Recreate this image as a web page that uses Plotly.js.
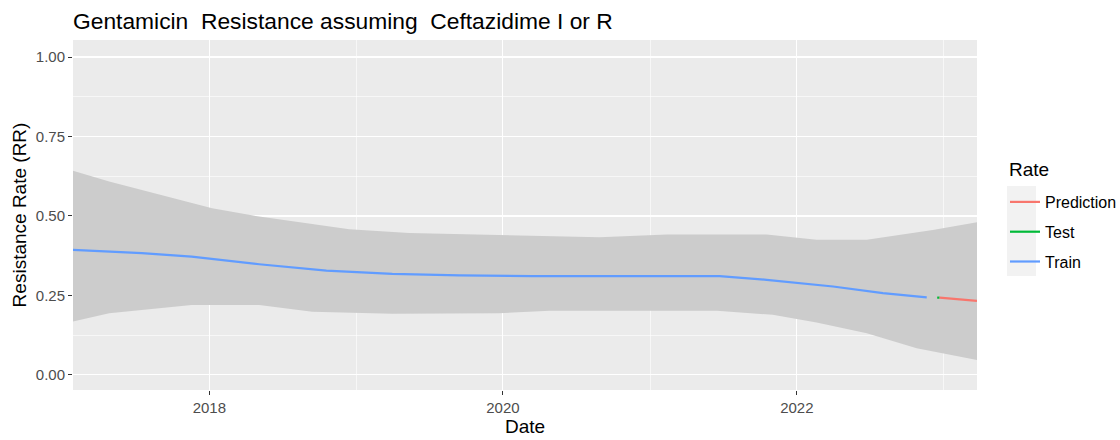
<!DOCTYPE html>
<html>
<head>
<meta charset="utf-8">
<script src="https://cdn.plot.ly/plotly-3.0.1.min.js"></script>
<style>html,body{margin:0;padding:0;background:#fff;}#chart{width:1120px;height:440px;}</style>
</head>
<body>
<div id="chart"></div>
<script>
// Train fitted rate
const trainDates = ['2017-01-27','2017-04-19','2017-07-17','2017-11-18','2018-05-05','2018-10-19','2019-04-01','2019-09-15','2020-03-14','2021-06-23','2021-10-18','2022-04-01','2022-08-03','2022-11-20'];
const trainRate  = [0.393,0.388,0.383,0.372,0.348,0.328,0.318,0.313,0.311,0.311,0.299,0.278,0.257,0.244];
// Test
const testDates = ['2022-12-16','2022-12-22'];
const testRate  = [0.243,0.243];
// Prediction
const predDates = ['2022-12-22','2023-02-05','2023-03-25'];
const predRate  = [0.243,0.238,0.233];
// Confidence band (upper)
const upperDates = ['2017-01-27','2017-04-27','2018-01-08','2018-05-05','2018-12-15','2019-05-13','2019-12-22','2020-08-28','2021-02-12','2021-10-18','2022-02-19','2022-06-24','2022-12-05','2023-03-25'];
const upperRate  = [0.642,0.608,0.524,0.498,0.458,0.446,0.440,0.433,0.442,0.442,0.425,0.425,0.456,0.480];
// Confidence band (lower)
const lowerDates = ['2017-01-27','2017-04-27','2017-11-18','2018-05-05','2018-09-14','2019-04-01','2019-12-22','2020-04-26','2021-06-16','2021-11-02','2022-02-19','2022-06-24','2022-10-26','2023-03-25'];
const lowerRate  = [0.168,0.194,0.220,0.220,0.199,0.192,0.194,0.202,0.202,0.189,0.165,0.131,0.084,0.047];
const legendTitle = 'Rate';

const band = {
  x: upperDates.concat(lowerDates.slice().reverse()),
  y: upperRate.concat(lowerRate.slice().reverse()),
  type: 'scatter', mode: 'lines', fill: 'toself',
  fillcolor: '#CCCCCC', line: {width: 0, color: 'rgba(0,0,0,0)'},
  showlegend: false, hoverinfo: 'skip'
};
const lineW = 2.2;
const pred = {x: predDates, y: predRate, type: 'scatter', mode: 'lines', name: 'Prediction',
  line: {color: '#F8766D', width: lineW}, legendgroup: 'a', legendrank: 1};
const test = {x: testDates, y: testRate, type: 'scatter', mode: 'lines', name: 'Test',
  line: {color: '#00BA38', width: lineW}, legendgroup: 'b', legendrank: 2};
const train = {x: trainDates, y: trainRate, type: 'scatter', mode: 'lines', name: 'Train',
  line: {color: '#619CFF', width: lineW}, legendgroup: 'c', legendrank: 3};

const W = 1120, L = 73, R = 143, T = 40, B = 50;
const pw = W - L - R, ph = 440 - T - B;
const px = v => (v - L) / pw;
const py = v => 1 - (v - T) / ph;

const layout = {
  width: W, height: 440,
  margin: {l: L, r: R, t: T, b: B, autoexpand: false},
  paper_bgcolor: '#FFFFFF',
  plot_bgcolor: '#EBEBEB',
  font: {family: 'Liberation Sans, Arial, sans-serif', color: '#000000'},
  title: {
    text: 'Gentamicin  Resistance assuming  Ceftazidime I or R',
    font: {size: 22.8, color: '#000000'},
    x: 0, xref: 'paper', xanchor: 'left', y: 0.953, yanchor: 'middle'
  },
  xaxis: {
    type: 'date',
    range: ['2017-01-27', '2023-03-25'],
    tick0: '2018-01-01', dtick: 'M24',
    tickformat: '%Y',
    ticks: 'outside', ticklen: 4, tickwidth: 1, tickcolor: '#333333',
    tickfont: {size: 15, color: '#4D4D4D'},
    showgrid: true, gridcolor: '#FFFFFF', gridwidth: 1.2,
    minor: {tick0: '2017-01-01', dtick: 'M12', showgrid: true, gridcolor: '#FFFFFF', gridwidth: 0.6},
    zeroline: false, showline: false,
    title: {text: 'Date', font: {size: 19, color: '#000000'}, standoff: 4}
  },
  yaxis: {
    range: [-0.0475, 1.0535],
    tick0: 0, dtick: 0.25, tickformat: '.2f',
    ticks: 'outside', ticklen: 4, tickwidth: 1, tickcolor: '#333333',
    tickfont: {size: 15, color: '#4D4D4D'},
    showgrid: true, gridcolor: '#FFFFFF', gridwidth: 1.2,
    minor: {tick0: 0.125, dtick: 0.25, showgrid: true, gridcolor: '#FFFFFF', gridwidth: 0.6},
    zeroline: false, showline: false,
    title: {text: 'Resistance Rate (RR)', font: {size: 19, color: '#000000'}, standoff: 4}
  },
  legend: {
    x: px(1005), xanchor: 'left', y: py(185), yanchor: 'top',
    font: {size: 16, color: '#000000'},
    traceorder: 'grouped', tracegroupgap: 6,
    bgcolor: 'rgba(255,255,255,0)', itemwidth: 30
  },
  annotations: [{
    text: legendTitle, xref: 'paper', yref: 'paper',
    x: px(1007), y: py(169), xanchor: 'left', yanchor: 'middle',
    showarrow: false, font: {size: 19, color: '#000000'}
  }],
  shapes: [{
    type: 'rect', xref: 'paper', yref: 'paper', layer: 'below',
    x0: px(1007), x1: px(1036), y0: py(186), y1: py(276),
    fillcolor: '#F2F2F2', line: {width: 0}
  }],
  showlegend: true
};

Plotly.newPlot('chart', [band, train, test, pred], layout, {displayModeBar: false, staticPlot: true});
</script>
</body>
</html>
